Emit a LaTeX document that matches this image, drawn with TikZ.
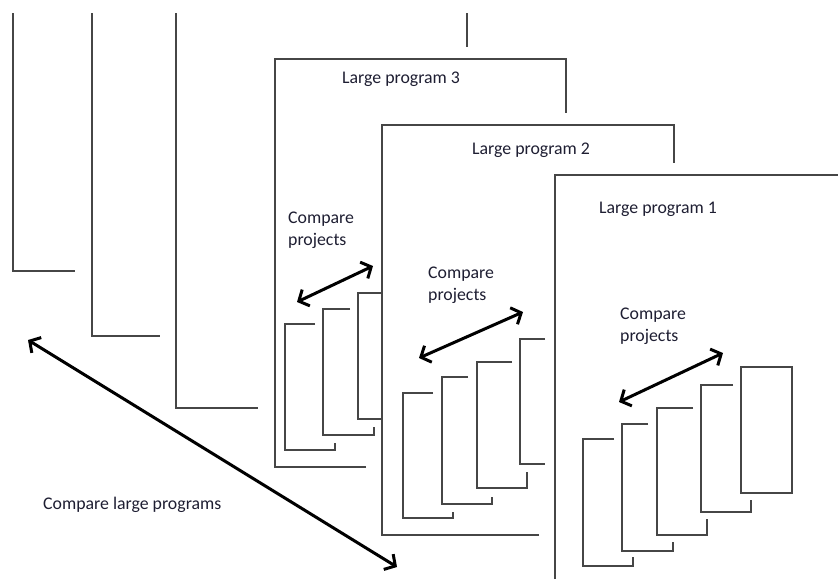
\documentclass[tikz,border=0pt]{standalone}
\usepackage{fontspec}
\setmainfont{Carlito}
\usetikzlibrary{arrows.meta,positioning}
\usepackage{xcolor}
\definecolor{sheetgray}{RGB}{70,70,70}
\definecolor{inkblue}{RGB}{30,30,50}

\begin{document}
\begin{tikzpicture}[x=1pt, y=-1pt,
    sheet/.style={draw=sheetgray, line width=1.3pt},
    compare/.style={draw=black, line width=3pt, {Straight Barb[length=8pt,width=18pt]}-{Straight Barb[length=8pt,width=18pt]}},
    lbl/.style={text=inkblue, font=\fontsize{17.8}{22}\selectfont, inner sep=0pt, anchor=base west, align=left}]

    \useasboundingbox (0,0) rectangle (838,579);

    % sheets further back
    \draw[sheet] (13,13) -- (13,271) -- (75,271);
    \draw[sheet] (92,13) -- (92,336) -- (160,336);
    \draw[sheet] (176,13) -- (176,408) -- (258,408);
    \draw[sheet] (467,13) -- (467,47);

    % large programs 3, 2, 1
    \draw[sheet] (366,467) -- (275,467) -- (275,59) -- (566,59) -- (566,113);
    \draw[sheet] (539,535) -- (382,535) -- (382,125) -- (674,125) -- (674,163);
    \draw[sheet] (555,579) -- (555,175) -- (838,175);

    % projects
    \foreach \l/\t/\r/\b/\e/\u in {285/324/315/450/335/443, 323/309/350/435/374/427, 358/293/382/419/382/419,
        403/393/433/518/453/512, 442/377/468/504/492/497, 477/362/512/488/527/472, 520/339/545/464/545/464,
        583/439/614/566/633/557, 622/424/648/551/673/542, 657/408/693/535/707/519, 701/385/733/512/751/500}
        \draw[sheet] (\r,\t) -- (\l,\t) -- (\l,\b) -- (\e,\b) -- (\e,\u);
    \draw[sheet] (741,367) rectangle (792,493);

    \node[lbl] (title3) at (342,83) {Large program 3};
    \node[lbl] (title2) at (472,154) {Large program 2};
    \node[lbl] (title1) at (599,213) {Large program 1};
    \node[lbl] (cmp3) at (288,245) {Compare\\projects};
    \node[lbl] (cmp2) at (428,300) {Compare\\projects};
    \node[lbl] (cmp1) at (620,341) {Compare\\projects};
    \node[lbl] (cmpall) at (43,509) {Compare large programs};

    \coordinate (p3l) at (297,302);
    \coordinate (p3r) at (373,266);
    \coordinate (p2l) at (419,358);
    \coordinate (p2r) at (523,312);
    \coordinate (p1l) at (619,402);
    \coordinate (p1r) at (723,353);
    \coordinate (gl) at (28,340);
    \coordinate (gr) at (397,567);

    \draw[compare] (p3l) -- (p3r);
    \draw[compare] (p2l) -- (p2r);
    \draw[compare] (p1l) -- (p1r);
    \draw[compare] (gl) -- (gr);
\end{tikzpicture}
\end{document}
